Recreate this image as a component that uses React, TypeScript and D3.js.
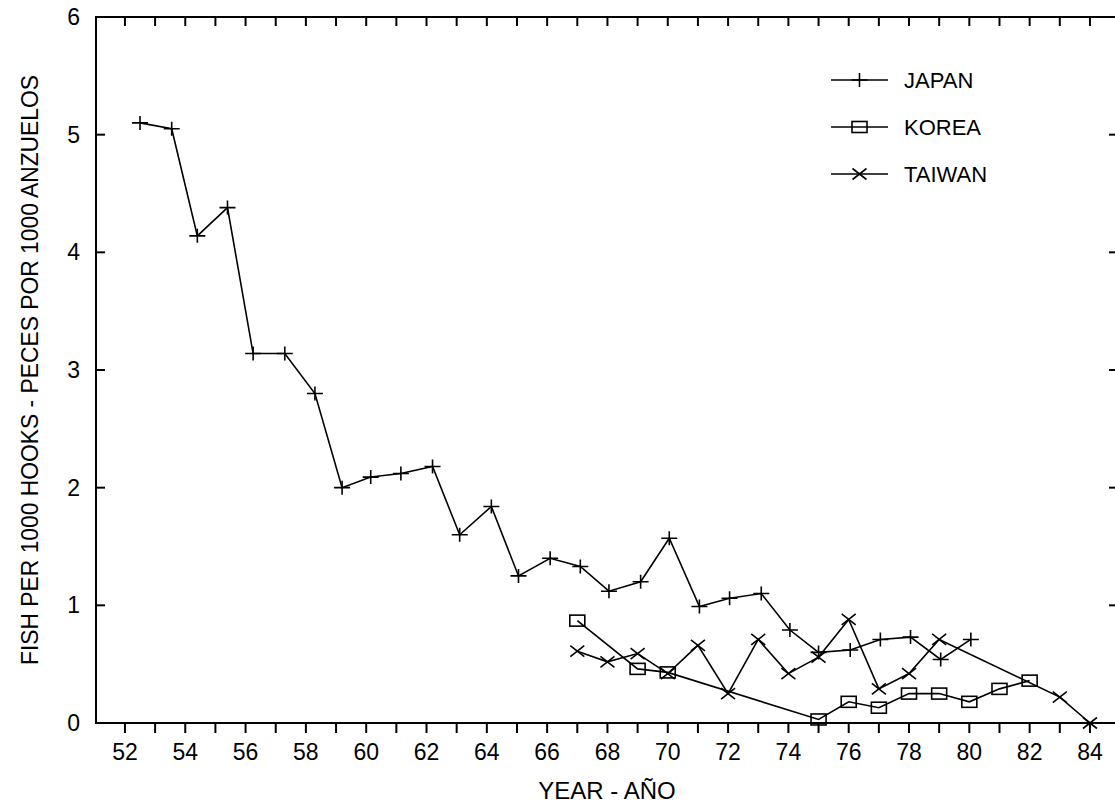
import React, { useEffect, useRef } from 'react';
import * as d3 from 'd3';

// catch rates (fish per 1000 hooks)
const japanYears = [52.5, 53.55, 54.4, 55.4, 56.25, 57.3, 58.3, 59.2, 60.15, 61.15, 62.2, 63.1, 64.15, 65.05, 66.1, 67.1, 68.05, 69.1, 70.05, 71.05, 72.05, 73.1, 74.05, 75, 76.05, 77.05, 78.05, 79.05, 80.05];
const japanCpue = [5.1, 5.05, 4.14, 4.38, 3.14, 3.14, 2.8, 2.0, 2.09, 2.12, 2.18, 1.6, 1.84, 1.25, 1.4, 1.33, 1.12, 1.2, 1.57, 0.99, 1.06, 1.1, 0.79, 0.6, 0.62, 0.71, 0.73, 0.54, 0.71];

const koreaYears = [67, 69, 70, 75, 76, 77, 78, 79, 80, 81, 82];
const koreaCpue = [0.87, 0.46, 0.43, 0.03, 0.18, 0.13, 0.25, 0.25, 0.18, 0.29, 0.36];

const taiwanYears = [67, 68, 69, 70, 71, 72, 73, 74, 75, 76, 77, 78, 79, 83, 84];
const taiwanCpue = [0.61, 0.52, 0.59, 0.42, 0.66, 0.25, 0.71, 0.42, 0.56, 0.88, 0.29, 0.42, 0.71, 0.22, 0.0];

const xTickLabels = [52, 54, 56, 58, 60, 62, 64, 66, 68, 70, 72, 74, 76, 78, 80, 82, 84];
const yTickLabels = [0, 1, 2, 3, 4, 5, 6];

const seriesNames = ['JAPAN', 'KOREA', 'TAIWAN'];

function App() {
  const ref = useRef<SVGSVGElement>(null);

  const width = 1115;
  const height = 806;
  const left = 96, right = 1118, top = 17, bottom = 723;
  const font = "'Liberation Sans', Arial, sans-serif";

  useEffect(() => {
    drawChart();
  }, []);

  function drawChart() {
    const svg = d3.select(ref.current);
    svg.selectAll('*').remove();

    const x = d3.scaleLinear().domain([51.04, 84.93]).range([left, right]);
    const y = d3.scaleLinear().domain([0, 6]).range([bottom, top]);

    const g = svg.append('g');

    // frame
    g.append('rect')
      .attr('x', left).attr('y', top)
      .attr('width', right - left).attr('height', bottom - top)
      .style('fill', 'none').style('stroke', '#000').style('stroke-width', 2);

    // year ticks, every year
    const years = d3.range(52, 85);
    g.selectAll('.bt').data(years).enter().append('line')
      .attr('x1', (d) => x(d)).attr('x2', (d) => x(d))
      .attr('y1', bottom).attr('y2', bottom + 10)
      .style('stroke', '#000').style('stroke-width', 2);
    g.selectAll('.tt').data(years).enter().append('line')
      .attr('x1', (d) => x(d)).attr('x2', (d) => x(d))
      .attr('y1', top).attr('y2', top + 9)
      .style('stroke', '#000').style('stroke-width', 2);

    // value ticks on both sides
    g.selectAll('.lt').data(yTickLabels).enter().append('line')
      .attr('x1', left).attr('x2', left + 9)
      .attr('y1', (d) => y(d)).attr('y2', (d) => y(d))
      .style('stroke', '#000').style('stroke-width', 2);
    g.selectAll('.rt').data(yTickLabels).enter().append('line')
      .attr('x1', right - 9).attr('x2', right)
      .attr('y1', (d) => y(d)).attr('y2', (d) => y(d))
      .style('stroke', '#000').style('stroke-width', 2);

    g.selectAll('.xl').data(xTickLabels).enter().append('text')
      .attr('x', (d) => x(d)).attr('y', 760)
      .attr('text-anchor', 'middle')
      .style('font-family', font).style('font-size', '23px')
      .text((d) => d);
    g.selectAll('.yl').data(yTickLabels).enter().append('text')
      .attr('x', 80).attr('y', (d) => y(d) + 8)
      .attr('text-anchor', 'end')
      .style('font-family', font).style('font-size', '23px')
      .text((d) => d);

    g.append('text')
      .attr('x', (left + right) / 2).attr('y', 799)
      .attr('text-anchor', 'middle')
      .style('font-family', font).style('font-size', '24px')
      .text('YEAR - AÑO');

    g.append('text')
      .attr('transform', `translate(38, ${(top + bottom) / 2}) rotate(-90)`)
      .attr('text-anchor', 'middle')
      .attr('textLength', 590).attr('lengthAdjust', 'spacingAndGlyphs')
      .style('font-family', font).style('font-size', '24px')
      .text('FISH PER 1000 HOOKS - PECES POR 1000 ANZUELOS');

    const line = d3.line<[number, number]>()
      .x((d) => x(d[0]))
      .y((d) => y(d[1]));

    const series = [
      { name: seriesNames[0], pts: d3.zip(japanYears, japanCpue) as [number, number][], marker: 'plus' },
      { name: seriesNames[1], pts: d3.zip(koreaYears, koreaCpue) as [number, number][], marker: 'square' },
      { name: seriesNames[2], pts: d3.zip(taiwanYears, taiwanCpue) as [number, number][], marker: 'cross' },
    ];

    function drawMarker(sel: any, kind: string, cx: number, cy: number) {
      if (kind === 'plus') {
        sel.append('path').attr('d', `M${cx - 8},${cy}H${cx + 8}M${cx},${cy - 7}V${cy + 7}`);
      } else if (kind === 'square') {
        sel.append('rect').attr('x', cx - 7.5).attr('y', cy - 5.5).attr('width', 15).attr('height', 11);
      } else {
        sel.append('path').attr('d', `M${cx - 7},${cy - 5.5}L${cx + 7},${cy + 5.5}M${cx - 7},${cy + 5.5}L${cx + 7},${cy - 5.5}`);
      }
    }

    series.forEach((s) => {
      g.append('path')
        .attr('d', line(s.pts))
        .style('fill', 'none').style('stroke', '#000').style('stroke-width', 1.6);
      const mg = g.append('g').style('fill', 'none').style('stroke', '#000').style('stroke-width', 1.6);
      s.pts.forEach((p) => drawMarker(mg, s.marker, x(p[0]), y(p[1])));
    });

    // legend
    series.forEach((s, i) => {
      const ly = 80 + i * 47;
      const lg = g.append('g').style('fill', 'none').style('stroke', '#000').style('stroke-width', 1.6);
      lg.append('line').attr('x1', 831).attr('x2', 888).attr('y1', ly).attr('y2', ly);
      drawMarker(lg, s.marker, 859.5, ly);
      g.append('text')
        .attr('x', 904).attr('y', ly + 8)
        .style('font-family', font).style('font-size', '22px')
        .text(s.name);
    });
  }

  return (
    <svg ref={ref} width={width} height={height}
      style={{ position: 'absolute', left: 0, top: 0, background: '#fff' }} />
  );
}

export default App;
